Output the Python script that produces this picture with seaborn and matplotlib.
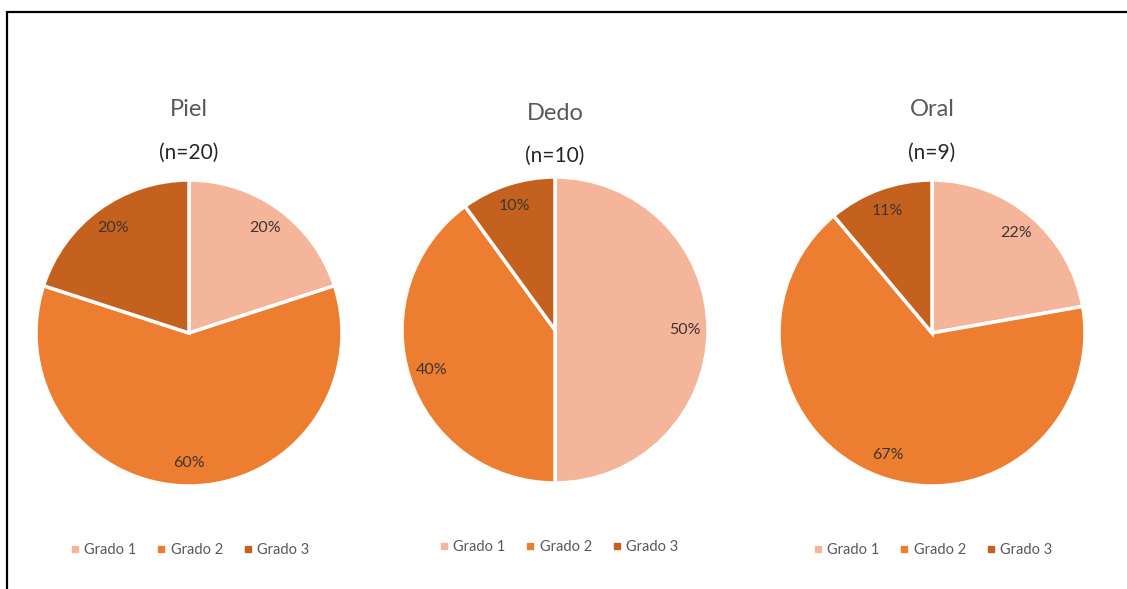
import matplotlib
matplotlib.use("Agg")
import matplotlib.pyplot as plt
from matplotlib.lines import Line2D
import seaborn as sns

# data
grades = ["Grado 1", "Grado 2", "Grado 3"]
sites = ["Piel", "Dedo", "Oral"]
totals = [20, 10, 9]
piel = [4, 12, 4]
dedo = [5, 4, 1]
oral = [2, 6, 1]
counts = [piel, dedo, oral]

sns.set_theme(style="white")
plt.rcParams["font.family"] = ["Lato", "DejaVu Sans"]
colors = sns.color_palette(["#F4B59B", "#ED7D31", "#C5611F"])

W, H = 1127, 589
fig = plt.figure(figsize=(W / 100, H / 100), dpi=100)
fig.patch.set_facecolor("white")

# pie centres (px) and radius
centres = [(189, 333), (555, 330), (932, 333)]
r = 153
title_y = [110, 113, 110]
n_y = [153, 156, 153]
legend_x = [189, 558, 932]
legend_y = [550, 547, 550]

for i, site in enumerate(sites):
    cx, cy = centres[i]
    ax = fig.add_axes([(cx - r) / W, (H - cy - r) / H, 2 * r / W, 2 * r / H])
    ax.pie(counts[i], colors=colors, startangle=90, counterclock=False,
           autopct=lambda p: f"{p:.0f}%", pctdistance=0.85,
           wedgeprops=dict(edgecolor="white", linewidth=2.5),
           textprops=dict(fontsize=11.5, color="#3F3530"))
    ax.set_xlim(-1, 1)
    ax.set_ylim(-1, 1)
    ax.set_aspect("auto")
    ax.axis("off")

    fig.text(cx / W, 1 - title_y[i] / H, site, ha="center", va="center",
             fontsize=17, color="#595959")
    fig.text(cx / W, 1 - n_y[i] / H, f"(n={totals[i]})", ha="center",
             va="center", fontsize=15, color="#262626")

    handles = [Line2D([], [], marker="s", linestyle="", markersize=5,
                      color=c) for c in colors]
    fig.legend(handles, grades, loc="center", ncol=3, frameon=False,
               bbox_to_anchor=(legend_x[i] / W, 1 - legend_y[i] / H),
               fontsize=10.5, labelcolor="#595959", handletextpad=0.25,
               columnspacing=1.3, handlelength=0.8)

# partial frame like the source screenshot
fig.add_artist(Line2D([7 / W, 1], [1 - 12 / H, 1 - 12 / H], color="black", lw=1.6))
fig.add_artist(Line2D([7 / W, 7 / W], [0, 1 - 12 / H], color="black", lw=1.6))

fig.savefig("out.png", dpi=100)
